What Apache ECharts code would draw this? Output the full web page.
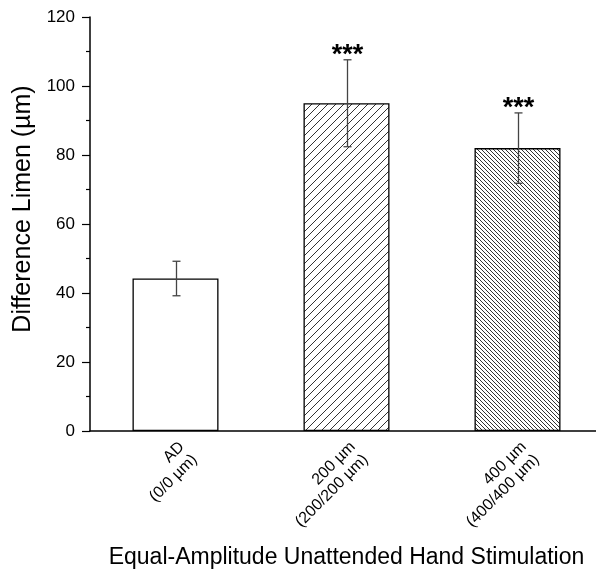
<!DOCTYPE html>
<html>
<head>
<meta charset="utf-8">
<script src="https://cdn.jsdelivr.net/npm/echarts@6/dist/echarts.min.js"></script>
<style>html,body{margin:0;padding:0;background:#fff;}#c{width:596px;height:570px;}</style>
</head>
<body>
<div id="c"></div>
<script>
var categories = ['AD\n(0/0 µm)', '200 µm\n(200/200 µm)', '400 µm\n(400/400 µm)'];
var means = [44.2, 95.0, 82.0];
var errors = [5.0, 12.6, 10.2];
var signif = ['', '***', '***'];
var yTicks = [0, 20, 40, 60, 80, 100, 120];

function hatch(period, dir) {
  var c = document.createElement('canvas');
  c.width = period; c.height = period;
  var g = c.getContext('2d');
  g.fillStyle = '#fff'; g.fillRect(0, 0, period, period);
  g.strokeStyle = '#333'; g.lineWidth = 1;
  for (var k = -1; k <= 1; k++) {
    g.beginPath();
    if (dir === '/') { g.moveTo(k * period, period); g.lineTo(k * period + period, 0); }
    else { g.moveTo(k * period, 0); g.lineTo(k * period + period, period); }
    g.stroke();
  }
  return { image: c, repeat: 'repeat' };
}
var fills = ['#ffffff', hatch(8, '/'), hatch(4, '\\')];

var FONT = 'Liberation Sans, Arial, sans-serif';
var chart = echarts.init(document.getElementById('c'), null, {renderer: 'canvas'});
chart.setOption({
  animation: false,
  backgroundColor: '#fff',
  grid: {left: 90, top: 17, bottom: 139, right: -7, containLabel: false, outerBoundsMode: 'none'},
  xAxis: {
    type: 'category', data: categories,
    name: 'Equal-Amplitude Unattended Hand Stimulation',
    nameLocation: 'middle', nameGap: 115,
    nameTextStyle: {fontFamily: FONT, fontSize: 23, color: '#000'},
    axisLine: {show: true, lineStyle: {color: '#000', width: 1.5}},
    axisTick: {show: false},
    axisLabel: {rotate: 45, fontFamily: FONT, fontSize: 16, color: '#000', margin: 7, lineHeight: 18,
      align: 'right', verticalAlign: 'top'}
  },
  yAxis: {
    type: 'value', min: yTicks[0], max: yTicks[yTicks.length - 1], interval: 20,
    name: 'Difference Limen (µm)', nameLocation: 'middle', nameGap: 52,
    nameTextStyle: {fontFamily: FONT, fontSize: 25, color: '#000', padding: [0, 0, 0, 30]},
    axisLine: {show: true, lineStyle: {color: '#000', width: 1.5}},
    axisTick: {show: true, inside: false, length: 8, lineStyle: {color: '#000', width: 1.2}},
    minorTick: {show: true, splitNumber: 2, length: 4, lineStyle: {color: '#000', width: 1.2}},
    splitLine: {show: false},
    axisLabel: {fontFamily: FONT, fontSize: 17, color: '#000', margin: 15}
  },
  series: [
    {
      type: 'bar', barWidth: 86,
      data: means.map(function (v, i) {
        return {value: v, itemStyle: {color: fills[i], borderColor: '#000', borderWidth: 1.3}};
      }),
      z: 2
    },
    {
      type: 'custom', z: 5,
      data: means.map(function (v, i) { return [i, v, errors[i]]; }),
      renderItem: function (params, api) {
        var i = api.value(0), m = api.value(1), e = api.value(2);
        var s = signif[params.dataIndex];
        var top = api.coord([i, m + e]), bot = api.coord([i, m - e]);
        var x = Math.round(top[0]) + 0.5, cap = 4;
        var children = [
          {type: 'line', shape: {x1: x, y1: top[1], x2: x, y2: bot[1]}, style: {stroke: '#444', lineWidth: 1.3}},
          {type: 'line', shape: {x1: x - cap, y1: top[1], x2: x + cap, y2: top[1]}, style: {stroke: '#444', lineWidth: 1.3}},
          {type: 'line', shape: {x1: x - cap, y1: bot[1], x2: x + cap, y2: bot[1]}, style: {stroke: '#444', lineWidth: 1.3}}
        ];
        if (s) {
          children.push({type: 'text', style: {text: s, x: x, y: top[1] - 4, align: 'center', verticalAlign: 'middle',
            font: 'bold 27px ' + FONT, fill: '#000'}});
        }
        return {type: 'group', children: children};
      }
    }
  ]
});
</script>
</body>
</html>
